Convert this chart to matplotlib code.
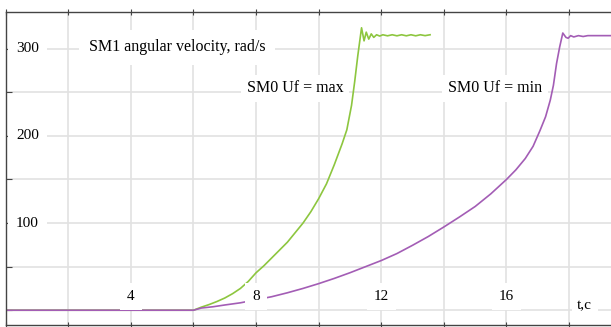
import numpy as np
import matplotlib
matplotlib.use('Agg')
import matplotlib.pyplot as plt

# SM1 angular velocity (rad/s) vs time (s)
t_max = [0, 6.0, 6.25, 6.5, 6.75, 7.0, 7.25, 7.5, 7.75, 8.0, 8.25, 8.5, 8.75, 9.0,
         9.25, 9.5, 9.75, 10.0, 10.25, 10.5, 10.75, 10.9, 11.05, 11.15, 11.25, 11.37,
         11.45, 11.52, 11.6, 11.68, 11.76, 11.85, 11.95, 12.05, 12.2, 12.35, 12.5,
         12.65, 12.8, 12.95, 13.1, 13.25, 13.4, 13.56]
w_max = [0, 0, 3.5, 6.5, 10, 14, 19, 25, 33, 43, 51, 60, 69, 78,
         89, 100, 113, 128, 145, 167, 191, 207, 235, 262, 292, 324,
         309, 319, 311, 317, 313, 316, 314.5, 316, 314.8, 316, 314.8,
         316, 314.8, 316, 314.8, 316, 315, 316]

t_min = [0, 6.0, 6.25, 6.63, 7.0, 7.5, 8.0, 8.5, 9.0, 9.5, 10.0, 10.5, 11.0, 11.5,
         12.0, 12.5, 13.0, 13.5, 14.0, 14.5, 15.0, 15.5, 16.0, 16.3, 16.6, 16.85,
         17.07, 17.25, 17.4, 17.5, 17.6, 17.7, 17.8, 17.9, 17.97, 18.05, 18.15,
         18.3, 18.45, 18.6, 19.0, 19.4]
w_min = [0, 0, 2.5, 4, 6, 8.5, 12, 15.5, 20, 25, 30.5, 36.5, 43, 50,
         57, 65, 74.5, 84.5, 95.5, 107, 119, 133.5, 150, 161, 174, 188,
         206, 222, 241, 258, 283, 302, 318, 313, 312, 315, 313.5,
         315, 314, 315, 315, 315]

x_ticks = [4, 8, 12, 16]
y_ticks = [100, 200, 300]

plt.rcParams['font.family'] = ['Liberation Serif', 'DejaVu Serif']

fig = plt.figure(figsize=(6.11, 3.27), dpi=100)
ax = fig.add_axes([0.0093, 0.006, 0.9907, 0.957])

ax.plot(t_max, w_max, color='#8dc63f', lw=1.2, zorder=3)
ax.plot(t_min, w_min, color='#a35db5', lw=1.2, zorder=3)

ax.set_xlim(0, 19.34)
ax.set_ylim(-17, 342)
ax.set_xticks(np.arange(0, 20, 2))
ax.set_yticks(np.arange(0, 350, 50))
ax.grid(True, color='#e2e2e2', lw=1.2, zorder=0)
ax.set_axisbelow(True)
ax.tick_params(axis='x', direction='inout', length=4, color='#444444',
               top=True, bottom=True, labelbottom=False)
ax.tick_params(axis='y', direction='in', length=4, color='#444444', labelleft=False)

for side in ['left', 'top', 'bottom']:
    ax.spines[side].set_color('#444444')
    ax.spines[side].set_linewidth(1.0)
    ax.spines[side].set_zorder(6)
ax.spines['right'].set_visible(False)

box = dict(facecolor='white', edgecolor='none', pad=5)
for v in x_ticks:
    ax.text(v, 15.5, str(v), ha='center', va='center', fontsize=11, bbox=box, zorder=5)
for v in y_ticks:
    ax.text(0.7, v, str(v), ha='center', va='center', fontsize=11,
            bbox=dict(facecolor='white', edgecolor='none', pad=6), zorder=5)
ax.text(18.5, 5.7, 't,c', ha='center', va='center', fontsize=11,
        bbox=dict(facecolor='white', edgecolor='none', pad=4), zorder=5)

ax.text(5.47, 301.6, 'SM1 angular velocity, rad/s', ha='center', va='center',
        fontsize=11.5, bbox=dict(facecolor='white', edgecolor='none', pad=7), zorder=5)
ax.text(9.24, 254.6, 'SM0 Uf = max', ha='center', va='center', fontsize=11.5,
        bbox=dict(facecolor='white', edgecolor='none', pad=4), zorder=5)
ax.text(15.63, 254.6, 'SM0 Uf = min', ha='center', va='center', fontsize=11.5,
        bbox=dict(facecolor='white', edgecolor='none', pad=4), zorder=5)

fig.savefig('out.png', dpi=100)
